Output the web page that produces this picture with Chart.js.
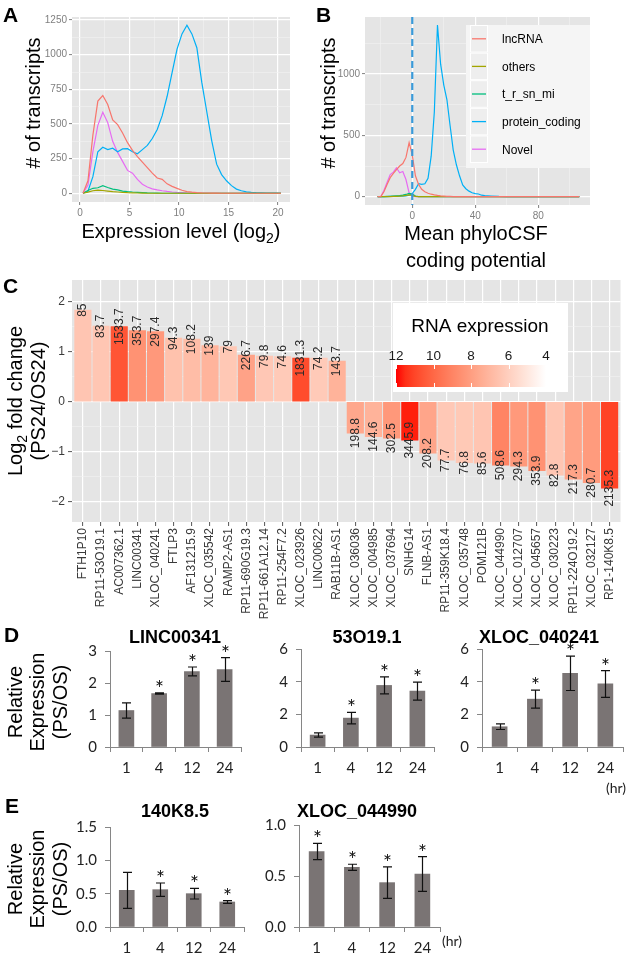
<!DOCTYPE html>
<html>
<head>
<meta charset="utf-8">
<title>Figure</title>
<script src="https://cdn.jsdelivr.net/npm/chart.js@4.4.1/dist/chart.umd.min.js"></script>
<style>
html,body{margin:0;padding:0;background:#ffffff;}
#fig{position:relative;width:626px;height:956px;overflow:hidden;background:#fff;}
#fig canvas{position:absolute;}
#fig svg{position:absolute;left:0;top:0;pointer-events:none;}
</style>
</head>
<body>
<div id="fig"></div>
<script>
// ================= DATA =================
const seriesNames  = ['lncRNA','others','t_r_sn_mi','protein_coding','Novel'];
const seriesColors = ['#F8766D','#A3A500','#00BF7D','#00B0F6','#E76BF3'];

// Panel A: number of transcripts vs expression level (log2)
const aExprLevel     = [0.3,0.8,1.3,1.8,2.3,2.8,3.3,3.8,4.3,4.8,5.3,5.8,6.3,6.8,7.3,7.8,8.3,8.8,9.3,9.8,10.3,10.8,11.3,11.8,12.3,12.8,13.3,13.8,14.3,14.8,15.3,15.8,16.3,16.8,17.3,17.8,18.3,18.8,19.3,19.8,20.3];
const aLncRNA        = [0,90,420,665,705,640,530,495,435,365,310,265,225,185,145,110,100,68,50,35,22,12,8,5,3,2,1,1,0,0,0,0,0,0,0,0,0,0,0,0,0];
const aOthers        = [0,8,18,22,20,16,12,9,6,4,3,2,1,0,0,0,0,0,0,0,0,0,0,0,0,0,0,0,0,0,0,0,0,0,0,0,0,0,0,0,0];
const aTrSnMi        = [0,20,36,40,55,42,30,24,16,12,9,7,5,3,2,1,0,0,0,0,0,0,0,0,0,0,0,0,0,0,0,0,0,0,0,0,0,0,0,0,0];
const aProteinCoding = [0,15,120,300,332,315,325,300,320,322,300,285,315,345,395,460,560,700,870,1040,1150,1212,1150,1050,800,590,380,210,135,90,55,30,18,10,6,4,3,2,1,1,0];
const aNovel         = [0,60,300,490,585,510,375,295,230,165,145,100,65,45,32,24,18,13,9,6,4,2,1,0,0,0,0,0,0,0,0,0,0,0,0,0,0,0,0,0,0];
const aXMajor = [0,5,10,15,20];
const aXMinor = [2.5,7.5,12.5,17.5];
const aYMajor = [0,250,500,750,1000,1250];
const aYMinor = [125,375,625,875,1125];

// Panel B: number of transcripts vs mean phyloCSF
const bPhyloCSF      = [-22,-20,-18,-16,-14,-12,-10,-8,-6,-4,-2,0,2,4,6,8,10,12,14,16,18,20,22,24,26,28,30,32,34,36,38,40,42,44,46,50,55,60,70,80,90,106];
const bLncRNA        = [0,0,40,100,155,190,220,250,270,320,440,340,170,100,60,40,28,20,14,10,7,5,3,2,1,1,0,0,0,0,0,0,0,0,0,0,0,0,0,0,0,0];
const bOthers        = [0,0,0,1,1,2,3,5,7,10,15,10,2,0,0,0,0,0,0,0,0,0,0,0,0,0,0,0,0,0,0,0,0,0,0,0,0,0,0,0,0,0];
const bTrSnMi        = [0,0,1,2,3,5,7,9,12,18,27,22,5,1,0,0,0,0,0,0,0,0,0,0,0,0,0,0,0,0,0,0,0,0,0,0,0,0,0,0,0,0];
const bProteinCoding = [0,0,1,1,2,2,3,4,5,7,12,25,60,105,100,105,150,330,690,1400,1080,910,790,580,380,260,170,95,65,45,32,25,22,12,8,5,2,1,0,0,0,0];
const bNovel         = [0,0,50,115,180,200,235,195,205,140,30,3,0,0,0,0,0,0,0,0,0,0,0,0,0,0,0,0,0,0,0,0,0,0,0,0,0,0,0,0,0,0];
const bCutoff = 0;
const bXMajor = [0,40,80];
const bXMinor = [-20,20,60,100];
const bYMajor = [0,500,1000];
const bYMinor = [250,750,1250];

// Panel C: log2 fold change (PS24/OS24) and RNA expression
const cGenes = ['FTH1P10','RP11-53O19.1','AC007362.1','LINC00341','XLOC_040241','FTLP3','AF131215.9','XLOC_035542','RAMP2-AS1','RP11-690G19.3','RP11-661A12.14','RP11-254F7.2','XLOC_023926','LINC00622','RAB11B-AS1','XLOC_036036','XLOC_004985','XLOC_037694','SNHG14','FLNB-AS1','RP11-359K18.4','XLOC_035748','POM121B','XLOC_044990','XLOC_012707','XLOC_045657','XLOC_030223','RP11-224O19.2','XLOC_032127','RP1-140K8.5'];
const cLog2FC = [1.83,1.51,1.50,1.42,1.40,1.27,1.25,1.12,1.10,0.93,0.91,0.90,0.87,0.87,0.81,-0.63,-0.70,-0.73,-0.77,-1.03,-1.17,-1.22,-1.23,-1.27,-1.29,-1.38,-1.47,-1.55,-1.62,-1.73];
const cExpression = [85,83.7,1533.7,353.7,297.4,94.3,108.2,139,79,226.7,79.8,74.6,1831.3,74.2,143.7,198.8,144.6,302.5,3445.9,208.2,77.7,76.8,85.6,508.6,294.3,353.9,82.8,217.3,280.7,2135.3];
const cYMajor = [-2,-1,0,1,2];
const cYMinor = [-1.5,-0.5,0.5,1.5];
const cLegendBreaks = [12,10,8,6,4];

// Panels D/E: relative expression (PS/OS) by time (hr)
const hours = ['1','4','12','24'];
const linc00341Mean = [1.14,1.67,2.36,2.42];
const linc00341Err  = [0.24,0.02,0.14,0.37];
const linc00341Sig  = [false,true,true,true];
const o53o19Mean = [0.73,1.77,3.77,3.42];
const o53o19Err  = [0.13,0.35,0.52,0.55];
const o53o19Sig  = [false,true,true,true];
const xloc040241Mean = [1.24,2.93,4.51,3.86];
const xloc040241Err  = [0.17,0.55,1.05,0.82];
const xloc040241Sig  = [false,true,true,true];
const k140Mean = [0.55,0.56,0.50,0.375];
const k140Err  = [0.27,0.10,0.08,0.02];
const k140Sig  = [false,true,true,true];
const xloc044990Mean = [0.74,0.585,0.435,0.52];
const xloc044990Err  = [0.08,0.03,0.155,0.17];
const xloc044990Sig  = [true,true,true,true];

// ================= HELPERS =================
const FF = "'Liberation Sans', Arial, Helvetica, sans-serif";
const XF = "Lato, 'Open Sans', sans-serif";
Chart.defaults.font.family = FF;
const fig = document.getElementById('fig');

function mkCanvas(r){
  const c = document.createElement('canvas');
  c.width = r.w; c.height = r.h;
  c.style.left = r.l + 'px'; c.style.top = r.t + 'px';
  c.style.width = r.w + 'px'; c.style.height = r.h + 'px';
  fig.appendChild(c);
  return c;
}
function lay(c, a){
  return {padding:{left:0, top:a.t - c.t, right:(c.l + c.w) - a.r, bottom:0}, yW:a.l - c.l, xH:(c.t + c.h) - a.b};
}
const base = {responsive:false, maintainAspectRatio:false, animation:false, devicePixelRatio:1, events:[]};
const noPlug = {legend:{display:false}, tooltip:{enabled:false}, title:{display:false}};

function bgPlugin(color){
  return {id:'panelBg', beforeDraw(chart){
    const a = chart.chartArea, ctx = chart.ctx;
    ctx.save(); ctx.fillStyle = color; ctx.fillRect(a.left, a.top, a.right - a.left, a.bottom - a.top); ctx.restore();
  }};
}
function ggAxis(o){
  const ticks = o.major.concat(o.minor).sort((p,q)=>p-q);
  const isMaj = v => o.major.some(m => Math.abs(m - v) < 1e-9);
  return {
    type:'linear', min:o.min, max:o.max, offset:false,
    afterBuildTicks(s){ s.ticks = ticks.map(v => ({value:v})); },
    afterFit(s){ if (o.horizontal) s.height = o.fit; else s.width = o.fit; },
    border:{display:false},
    grid:{offset:false,
      color:c => (c.tick && !isMaj(c.tick.value)) ? '#F2F2F2' : '#FFFFFF',
      lineWidth:c => (c.tick && !isMaj(c.tick.value)) ? 0.6 : 1.2,
      tickColor:c => (c.tick && !isMaj(c.tick.value)) ? 'rgba(0,0,0,0)' : o.tickColor,
      tickLength:o.tickLength || 3, tickWidth:1},
    ticks:{autoSkip:false, maxRotation:0, minRotation:0, padding:o.pad || 2, color:o.color,
      font:{family:FF, size:o.size}, callback:v => isMaj(v) ? o.fmt(v) : ''}
  };
}

// Lab interpolation white -> red (ggplot scale_fill_gradient)
function lin(c){c/=255;return c<=0.04045?c/12.92:Math.pow((c+0.055)/1.055,2.4);}
function gam(c){c=c<=0.0031308?12.92*c:1.055*Math.pow(c,1/2.4)-0.055;return Math.round(Math.max(0,Math.min(1,c))*255);}
function toLab(r,g,b){r=lin(r);g=lin(g);b=lin(b);
  let X=(0.4124*r+0.3576*g+0.1805*b)/0.95047, Y=0.2126*r+0.7152*g+0.0722*b, Z=(0.0193*r+0.1192*g+0.9505*b)/1.08883;
  const f=t=>t>0.008856?Math.cbrt(t):7.787*t+16/116;
  X=f(X);Y=f(Y);Z=f(Z);return [116*Y-16,500*(X-Y),200*(Y-Z)];}
function fromLab(L,a,b){let Y=(L+16)/116,X=a/500+Y,Z=Y-b/200;
  const fi=t=>t*t*t>0.008856?t*t*t:(t-16/116)/7.787;
  X=fi(X)*0.95047;Y=fi(Y);Z=fi(Z)*1.08883;
  const r=3.2406*X-1.5372*Y-0.4986*Z, g=-0.9689*X+1.8758*Y+0.0415*Z, bb=0.0557*X-0.2040*Y+1.0570*Z;
  return 'rgb('+gam(r)+','+gam(g)+','+gam(bb)+')';}
const LAB_LO = toLab(255,255,255), LAB_HI = toLab(255,0,0);
const EXPR_LIM = [4,12];
function exprColor(v){const t=Math.max(0,Math.min(1,(v-EXPR_LIM[0])/(EXPR_LIM[1]-EXPR_LIM[0])));
  return fromLab(LAB_LO[0]+(LAB_HI[0]-LAB_LO[0])*t, LAB_LO[1]+(LAB_HI[1]-LAB_LO[1])*t, LAB_LO[2]+(LAB_HI[2]-LAB_LO[2])*t);}

function lineSets(xs, arrays){
  return arrays.map((arr,i)=>({label:seriesNames[i], data:xs.map((x,j)=>({x:x, y:arr[j]})),
    borderColor:seriesColors[i], backgroundColor:seriesColors[i], borderWidth:1.2, pointRadius:0, tension:0, fill:false}));
}

// ================= PANEL A =================
(function(){
  const c = {l:0,t:0,w:300,h:250}, a = {l:72,t:17,r:290,b:202}, L = lay(c,a);
  new Chart(mkCanvas(c), {
    type:'line',
    data:{datasets:lineSets(aExprLevel,[aLncRNA,aOthers,aTrSnMi,aProteinCoding,aNovel])},
    options:Object.assign({}, base, {
      layout:{padding:L.padding}, plugins:noPlug,
      scales:{
        x:ggAxis({min:-0.81,max:21.21,major:aXMajor,minor:aXMinor,horizontal:true,fit:L.xH,color:'#7F7F7F',size:10,tickColor:'#7F7F7F',fmt:v=>String(v)}),
        y:ggAxis({min:-63,max:1272,major:aYMajor,minor:aYMinor,horizontal:false,fit:L.yW,color:'#7F7F7F',size:10,tickColor:'#7F7F7F',fmt:v=>String(v)})
      }
    }),
    plugins:[bgPlugin('#E5E5E5')]
  });
})();

// ================= PANEL B =================
(function(){
  const c = {l:300,t:0,w:326,h:250}, a = {l:365,t:17,r:590,b:205}, L = lay(c,a);
  const extras = {id:'bExtras',
    afterDatasetsDraw(chart){
      const ctx = chart.ctx, ar = chart.chartArea, x = chart.scales.x.getPixelForValue(bCutoff);
      ctx.save(); ctx.strokeStyle = '#3A9AD9'; ctx.lineWidth = 2.2; ctx.setLineDash([7,4]);
      ctx.beginPath(); ctx.moveTo(x, ar.top); ctx.lineTo(x, ar.bottom); ctx.stroke(); ctx.restore();
    },
    afterDraw(chart){
      const ctx = chart.ctx, ox = c.l, oy = c.t;
      const bx = 466 - ox, by = 25 - oy, bw = 124, bh = 143, rowH = 27.6;
      ctx.save();
      ctx.fillStyle = '#F5F5F5'; ctx.fillRect(bx, by, bw, bh);
      chart.data.datasets.forEach((ds,i)=>{
        const ky = by + i*rowH, kx = 470 - ox;
        ctx.fillStyle = '#EEEEEE'; ctx.fillRect(kx, ky, 18, rowH);
        ctx.strokeStyle = '#FFFFFF'; ctx.lineWidth = 1; ctx.strokeRect(kx+0.5, ky+0.5, 17, rowH-1);
        const cy = ky + rowH/2;
        ctx.strokeStyle = ds.borderColor; ctx.lineWidth = 1.3;
        ctx.beginPath(); ctx.moveTo(kx+2, cy); ctx.lineTo(kx+16, cy); ctx.stroke();
        ctx.fillStyle = '#000'; ctx.font = '12px ' + FF; ctx.textAlign = 'left'; ctx.textBaseline = 'alphabetic';
        ctx.fillText(ds.label, 502 - ox, cy + 4.3);
      });
      ctx.restore();
    }};
  new Chart(mkCanvas(c), {
    type:'line',
    data:{datasets:lineSets(bPhyloCSF,[bLncRNA,bOthers,bTrSnMi,bProteinCoding,bNovel])},
    options:Object.assign({}, base, {
      layout:{padding:L.padding}, plugins:noPlug,
      scales:{
        x:ggAxis({min:-30,max:112.8,major:bXMajor,minor:bXMinor,horizontal:true,fit:L.xH,color:'#7F7F7F',size:10,tickColor:'#7F7F7F',fmt:v=>String(v)}),
        y:ggAxis({min:-68,max:1465,major:bYMajor,minor:bYMinor,horizontal:false,fit:L.yW,color:'#7F7F7F',size:10,tickColor:'#7F7F7F',fmt:v=>String(v)})
      }
    }),
    plugins:[bgPlugin('#E5E5E5'), extras]
  });
})();

// ================= PANEL C =================
(function(){
  const c = {l:0,t:260,w:626,h:370}, a = {l:72,t:280,r:626,b:522}, L = lay(c,a);
  const labelsPlugin = {id:'cLabels',
    afterDatasetsDraw(chart){
      const ctx = chart.ctx, ys = chart.scales.y, meta = chart.getDatasetMeta(0);
      ctx.save(); ctx.fillStyle = '#2B2B2B'; ctx.font = '12px ' + FF; ctx.textAlign = 'center'; ctx.textBaseline = 'middle';
      meta.data.forEach((el,i)=>{
        ctx.save(); ctx.translate(el.x, ys.getPixelForValue(cLog2FC[i])); ctx.rotate(-Math.PI/2);
        ctx.fillText(String(cExpression[i]), 0, 0); ctx.restore();
      });
      ctx.restore();
    },
    afterDraw(chart){
      const ctx = chart.ctx, oy = c.t;
      const bx = 393, by = 303 - oy, bw = 175, bh = 89;
      const gx0 = 396, gx1 = 546, gy = 365 - oy, gh = 22;
      ctx.save();
      ctx.fillStyle = '#FFFFFF'; ctx.fillRect(bx, by, bw, bh);
      ctx.fillStyle = '#000'; ctx.font = '19px ' + FF; ctx.textAlign = 'center'; ctx.textBaseline = 'alphabetic';
      ctx.fillText('RNA expression', 480, 332 - oy);
      const grad = ctx.createLinearGradient(gx0, 0, gx1, 0);
      for (let k = 0; k <= 16; k++) { const t = k/16; grad.addColorStop(t, exprColor(EXPR_LIM[1] - t*(EXPR_LIM[1]-EXPR_LIM[0]))); }
      ctx.fillStyle = grad; ctx.fillRect(gx0, gy, gx1 - gx0, gh);
      ctx.font = '13.5px ' + FF;
      cLegendBreaks.forEach(v=>{
        const x = gx0 + (EXPR_LIM[1] - v)/(EXPR_LIM[1]-EXPR_LIM[0])*(gx1 - gx0);
        ctx.fillStyle = '#1A1A1A';
        ctx.fillText(String(v), x, 360 - oy);
        ctx.strokeStyle = '#FFFFFF'; ctx.lineWidth = 1;
        ctx.beginPath(); ctx.moveTo(Math.round(x)+0.5, gy); ctx.lineTo(Math.round(x)+0.5, gy+4);
        ctx.moveTo(Math.round(x)+0.5, gy+gh-4); ctx.lineTo(Math.round(x)+0.5, gy+gh); ctx.stroke();
      });
      ctx.restore();
    }};
  new Chart(mkCanvas(c), {
    type:'bar',
    data:{datasets:[{label:'log2 fold change', data:cLog2FC.map((v,i)=>({x:i, y:v})),
      backgroundColor:cExpression.map(e=>exprColor(Math.log2(e))), borderWidth:0, barThickness:16.5}]},
    options:Object.assign({}, base, {
      layout:{padding:L.padding}, plugins:noPlug,
      scales:{
        x:{type:'linear', min:-0.6, max:29.6, offset:false,
          afterBuildTicks(s){ s.ticks = cGenes.map((g,i)=>({value:i})); },
          afterFit(s){ s.height = L.xH; },
          border:{display:false},
          grid:{offset:false, color:'#FFFFFF', lineWidth:1.2, tickColor:'#555555', tickLength:4, tickWidth:1},
          ticks:{autoSkip:false, minRotation:90, maxRotation:90, padding:2, color:'#3A3A3A', font:{family:FF, size:12},
            callback:v => cGenes[Math.round(v)]}},
        y:ggAxis({min:-2.406,max:2.434,major:cYMajor,minor:cYMinor,horizontal:false,fit:L.yW,color:'#3A3A3A',size:12,tickColor:'#555555',tickLength:4,pad:3,
          fmt:v => v < 0 ? '\u2212' + Math.abs(v) : String(v)})
      }
    }),
    plugins:[bgPlugin('#E5E5E5'), labelsPlugin]
  });
})();

// ================= PANELS D / E =================
const AX = '#868686', BAR_GREY = '#7A7474';
function errPlugin(means, errs, sigs){
  return {id:'errBars', afterDatasetsDraw(chart){
    const ctx = chart.ctx, ys = chart.scales.y, meta = chart.getDatasetMeta(0);
    ctx.save(); ctx.strokeStyle = '#111'; ctx.lineWidth = 1.2;
    meta.data.forEach((el,i)=>{
      const x = Math.round(el.x) + 0.5, t = ys.getPixelForValue(means[i] + errs[i]), b = ys.getPixelForValue(means[i] - errs[i]);
      ctx.beginPath(); ctx.moveTo(x, t); ctx.lineTo(x, b);
      ctx.moveTo(x - 4.5, t); ctx.lineTo(x + 4.5, t); ctx.moveTo(x - 4.5, b); ctx.lineTo(x + 4.5, b); ctx.stroke();
      if (sigs[i]) { ctx.fillStyle = '#111'; ctx.font = '21px ' + XF; ctx.textAlign = 'center'; ctx.textBaseline = 'alphabetic'; ctx.fillText('*', x, t + 3); }
    });
    ctx.restore();
  }};
}
function excelBar(c, a, means, errs, sigs, yMax, yStep, dec){
  const L = lay(c, a);
  new Chart(mkCanvas(c), {
    type:'bar',
    data:{labels:hours, datasets:[{data:means, backgroundColor:BAR_GREY, borderWidth:0, barThickness:15}]},
    options:Object.assign({}, base, {
      layout:{padding:L.padding}, plugins:noPlug,
      scales:{
        x:{type:'category', offset:true, afterFit(s){ s.height = L.xH; },
          border:{display:true, color:AX, width:1},
          grid:{offset:true, drawOnChartArea:false, drawTicks:true, tickLength:5, tickColor:AX, tickWidth:1},
          ticks:{autoSkip:false, maxRotation:0, minRotation:0, padding:7, color:'#222', font:{family:XF, size:15}}},
        y:{type:'linear', min:0, max:yMax, afterFit(s){ s.width = L.yW; },
          border:{display:true, color:AX, width:1},
          grid:{drawOnChartArea:false, drawTicks:true, tickLength:5, tickColor:AX, tickWidth:1},
          ticks:{stepSize:yStep, padding:8, color:'#222', font:{family:XF, size:15}, callback:v => Number(v).toFixed(dec)}}
      }
    }),
    plugins:[errPlugin(means, errs, sigs)]
  });
}
excelBar({l:40,t:625,w:210,h:165},  {l:110,t:651,r:241,b:747}, linc00341Mean, linc00341Err, linc00341Sig, 3, 1, 0);
excelBar({l:240,t:625,w:205,h:165}, {l:301,t:649,r:434,b:747}, o53o19Mean, o53o19Err, o53o19Sig, 6, 2, 0);
excelBar({l:430,t:625,w:196,h:165}, {l:482,t:649,r:623,b:747}, xloc040241Mean, xloc040241Err, xloc040241Sig, 6, 2, 0);
excelBar({l:40,t:800,w:210,h:156},  {l:110,t:827,r:244,b:927}, k140Mean, k140Err, k140Sig, 1.5, 0.5, 1);
excelBar({l:240,t:800,w:220,h:156}, {l:299,t:825,r:440,b:927}, xloc044990Mean, xloc044990Err, xloc044990Sig, 1.0, 0.5, 1);

// ================= TEXT OVERLAY =================
const sub = '<tspan font-size="14" dy="5">2</tspan>';
fig.insertAdjacentHTML('beforeend',
'<svg width="626" height="956" xmlns="http://www.w3.org/2000/svg" font-family="Liberation Sans, Arial, sans-serif" fill="#000">' +
'<g font-weight="bold" font-size="21">' +
'<text x="3" y="22">A</text><text x="316" y="22">B</text><text x="3" y="293">C</text><text x="4" y="642">D</text><text x="5" y="813">E</text>' +
'</g>' +
'<g font-size="20" text-anchor="middle">' +
'<text transform="translate(40,103) rotate(-90)"># of transcripts</text>' +
'<text x="181" y="238">Expression level (log' + sub + '<tspan dy="-5">)</tspan></text>' +
'<text transform="translate(335,103) rotate(-90)"># of transcripts</text>' +
'<text x="476" y="240">Mean phyloCSF</text>' +
'<text x="476" y="267">coding potential</text>' +
'<text transform="translate(22,401) rotate(-90)">Log' + sub + '<tspan dy="-5"> fold change</tspan></text>' +
'<text transform="translate(45,401) rotate(-90)">(PS24/OS24)</text>' +
'<text transform="translate(22,702) rotate(-90)">Relative</text>' +
'<text transform="translate(44,702) rotate(-90)">Expression</text>' +
'<text transform="translate(67,702) rotate(-90)">(PS/OS)</text>' +
'<text transform="translate(22,879) rotate(-90)">Relative</text>' +
'<text transform="translate(44,879) rotate(-90)">Expression</text>' +
'<text transform="translate(67,879) rotate(-90)">(PS/OS)</text>' +
'</g>' +
'<g font-size="18" font-weight="bold" text-anchor="middle">' +
'<text x="175" y="643">LINC00341</text><text x="367" y="643">53O19.1</text><text x="539" y="643">XLOC_040241</text>' +
'<text x="175" y="817">140K8.5</text><text x="357" y="817">XLOC_044990</text>' +
'</g>' +
'<g font-size="14" font-family="Lato, Open Sans, sans-serif" fill="#222">' +
'<text x="606" y="793">(hr)</text><text x="442" y="946">(hr)</text>' +
'</g>' +
'</svg>');
</script>
</body>
</html>
